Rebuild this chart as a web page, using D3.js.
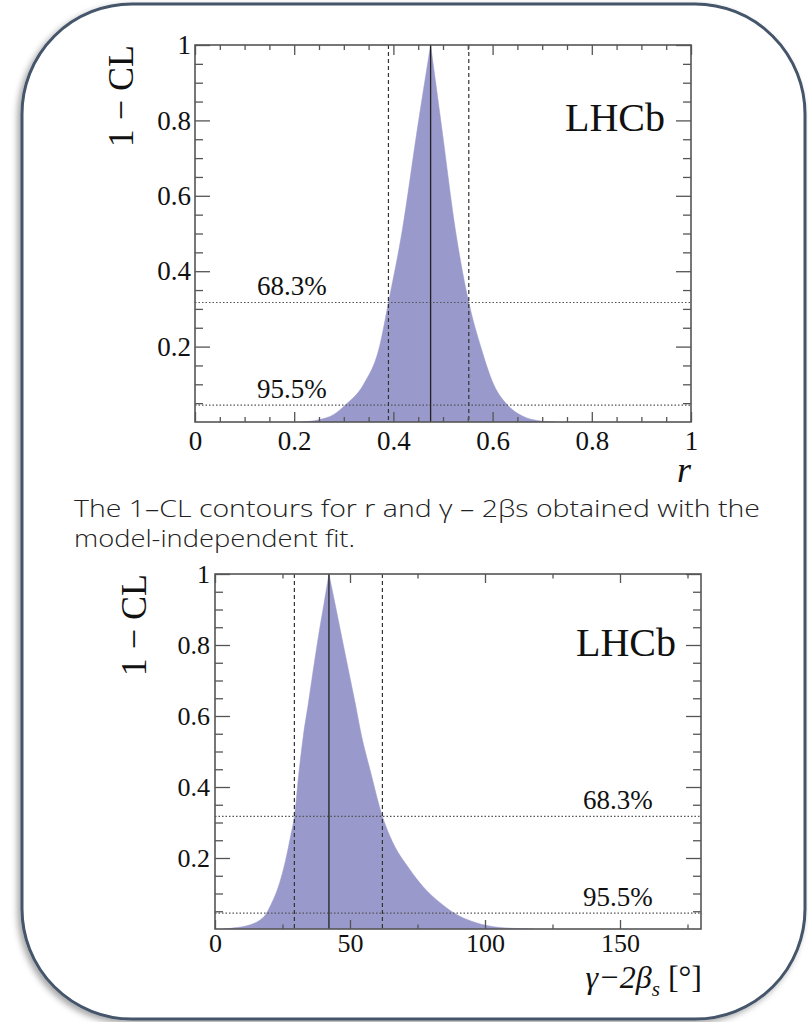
<!DOCTYPE html>
<html>
<head>
<meta charset="utf-8">
<script src="https://cdnjs.cloudflare.com/ajax/libs/d3/7.8.5/d3.min.js"></script>
<style>
    body { margin: 0; background: #fff; }
    svg { display: block; }
</style>
</head>
<body>
<div id="chart"></div>
<script>
// 1-CL scan for r (top panel), split at the best fit so the cusp stays sharp
const rLeft = [0.215, 0.25, 0.28, 0.303, 0.34, 0.372, 0.39, 0.418, 0.448, 0.475];
const rLeftCL = [0, 0.006, 0.02, 0.045, 0.1, 0.2, 0.317, 0.509, 0.775, 1];
const rRight = [0.475, 0.498, 0.525, 0.552, 0.576, 0.602, 0.63, 0.66, 0.69, 0.725];
const rRightCL = [1, 0.775, 0.509, 0.317, 0.2, 0.1, 0.045, 0.016, 0.004, 0];
const rBest = 0.475;
const rInterval = [0.39, 0.552];

// 1-CL scan for gamma - 2beta_s in degrees (bottom panel)
const gLeft = [3, 8, 14.8, 19.1, 21.0, 23.5, 25.3, 28.0, 29.4, 31.2, 32.7, 34.6, 36.4, 38.3, 40.4, 42.2];
const gLeftCL = [0, 0.004, 0.017, 0.045, 0.073, 0.12, 0.167, 0.261, 0.317, 0.449, 0.543, 0.637, 0.73, 0.824, 0.918, 1];
const gRight = [42.2, 44.4, 46.9, 49.4, 51.9, 54.3, 57.4, 62, 64.8, 72.2, 77, 83.5, 88.5, 95, 102, 110, 118];
const gRightCL = [1, 0.918, 0.824, 0.73, 0.637, 0.543, 0.449, 0.317, 0.261, 0.167, 0.12, 0.073, 0.045, 0.022, 0.008, 0.002, 0];
const gBest = 42.2;
const gInterval = [29.4, 62];

// confidence levels
const clLevels = [0.317, 0.045];
const clLabels = ['68.3%', '95.5%'];

// ticks
const rMajorTicks = [0, 0.2, 0.4, 0.6, 0.8, 1];
const rMinorTicks = [0.05, 0.1, 0.15, 0.25, 0.3, 0.35, 0.45, 0.5, 0.55, 0.65, 0.7, 0.75, 0.85, 0.9, 0.95];
const gMajorTicks = [0, 50, 100, 150];
const gMinorTicks = [25, 75, 125, 175];
const clMajorTicks = [0.2, 0.4, 0.6, 0.8, 1];
const clMinorTicks = [0.05, 0.1, 0.15, 0.25, 0.3, 0.35, 0.45, 0.5, 0.55, 0.65, 0.7, 0.75, 0.85, 0.9, 0.95];

const captionLines = [
    'The 1\u2013CL contours for r and \u03b3 \u2013 2\u03b2s obtained with the',
    'model-independent fit.'
];

const W = 808, H = 1022;
const serif = '"Liberation Serif", "Times New Roman", serif';
const fillColor = '#9999cc';

const svg = d3.select('#chart').append('svg')
    .attr('width', W)
    .attr('height', H);

const defs = svg.append('defs');
const shadow = defs.append('filter')
    .attr('id', 'shadow')
    .attr('x', '-10%').attr('y', '-10%')
    .attr('width', '120%').attr('height', '120%');
shadow.append('feDropShadow')
    .attr('dx', -3).attr('dy', 3)
    .attr('stdDeviation', 3)
    .attr('flood-color', '#000')
    .attr('flood-opacity', 0.35);

// Rounded frame
svg.append('rect')
    .attr('x', 22).attr('y', 4)
    .attr('width', 783).attr('height', 1015)
    .attr('rx', 110).attr('ry', 110)
    .attr('fill', '#fff')
    .attr('stroke', '#44546a')
    .attr('stroke-width', 3)
    .attr('filter', 'url(#shadow)');

function drawPanel(p) {
    const x = d3.scaleLinear().domain(p.xDomain).range([p.left, p.right]);
    const y = d3.scaleLinear().domain([0, 1]).range([p.bottom, p.top]);
    const g = svg.append('g');

    const clipId = 'clip-' + p.id;
    defs.append('clipPath').attr('id', clipId)
        .append('rect')
        .attr('x', p.left).attr('y', p.top)
        .attr('width', p.right - p.left).attr('height', p.bottom - p.top);

    const area = d3.area()
        .x(d => x(d[0]))
        .y0(y(0))
        .y1(d => y(d[1]))
        .curve(d3.curveMonotoneX);

    const plot = g.append('g').attr('clip-path', `url(#${clipId})`);

    // Filled scan, both halves
    [d3.zip(p.xl, p.yl), d3.zip(p.xr, p.yr)].forEach(pts => {
        plot.append('path')
            .datum(pts)
            .attr('d', area)
            .attr('fill', fillColor)
            .attr('stroke', fillColor)
            .attr('stroke-width', 0.5);
    });

    // CL lines
    plot.selectAll('.cl')
        .data(clLevels)
        .enter()
        .append('line')
        .attr('x1', p.left).attr('x2', p.right)
        .attr('y1', d => y(d)).attr('y2', d => y(d))
        .attr('stroke', '#555')
        .attr('stroke-width', 1.2)
        .attr('stroke-dasharray', '1.5,2');

    // interval edges
    plot.selectAll('.edge')
        .data(p.interval)
        .enter()
        .append('line')
        .attr('x1', d => x(d)).attr('x2', d => x(d))
        .attr('y1', p.top).attr('y2', p.bottom)
        .attr('stroke', '#333')
        .attr('stroke-width', 1.2)
        .attr('stroke-dasharray', '4,3');

    // best fit
    plot.append('line')
        .attr('x1', x(p.best)).attr('x2', x(p.best))
        .attr('y1', y(0)).attr('y2', y(1))
        .attr('stroke', '#222')
        .attr('stroke-width', 1.3);

    // Axes, ticks pointing inward on all four sides
    const styleAxis = sel => {
        sel.select('.domain').remove();
        sel.selectAll('line').attr('stroke', '#555').attr('stroke-width', 1.3);
        sel.selectAll('text')
            .attr('font-family', serif)
            .attr('font-size', p.tickFont + 'px')
            .attr('fill', '#111');
    };

    g.append('g')
        .attr('transform', `translate(0,${p.bottom})`)
        .call(d3.axisBottom(x).tickValues(p.xMinor).tickSize(-p.xTick / 2).tickFormat(''))
        .call(styleAxis);
    g.append('g')
        .attr('transform', `translate(0,${p.bottom})`)
        .call(d3.axisBottom(x).tickValues(p.xMajor).tickSize(-p.xTick)
            .tickPadding(p.xPad).tickFormat(p.xFormat))
        .call(styleAxis);
    g.append('g')
        .attr('transform', `translate(0,${p.top})`)
        .call(d3.axisTop(x).tickValues(p.xMinor).tickSize(-p.xTick / 2).tickFormat(''))
        .call(styleAxis);
    g.append('g')
        .attr('transform', `translate(0,${p.top})`)
        .call(d3.axisTop(x).tickValues(p.xMajor).tickSize(-p.xTick).tickFormat(''))
        .call(styleAxis);

    const yFormat = d => d === 1 ? '1' : d3.format('.1f')(d);
    g.append('g')
        .attr('transform', `translate(${p.left},0)`)
        .call(d3.axisLeft(y).tickValues(clMinorTicks).tickSize(-8).tickFormat(''))
        .call(styleAxis);
    g.append('g')
        .attr('transform', `translate(${p.left},0)`)
        .call(d3.axisLeft(y).tickValues(clMajorTicks).tickSize(-15)
            .tickPadding(p.yPad).tickFormat(yFormat))
        .call(styleAxis);
    g.append('g')
        .attr('transform', `translate(${p.right},0)`)
        .call(d3.axisRight(y).tickValues(clMinorTicks).tickSize(-8).tickFormat(''))
        .call(styleAxis);
    g.append('g')
        .attr('transform', `translate(${p.right},0)`)
        .call(d3.axisRight(y).tickValues(clMajorTicks).tickSize(-15).tickFormat(''))
        .call(styleAxis);

    // Frame
    g.append('rect')
        .attr('x', p.left).attr('y', p.top)
        .attr('width', p.right - p.left).attr('height', p.bottom - p.top)
        .attr('fill', 'none')
        .attr('stroke', '#555')
        .attr('stroke-width', 1.6);

    // CL labels
    g.selectAll('.cllabel')
        .data(clLevels)
        .enter()
        .append('text')
        .attr('x', x(p.labelAt))
        .attr('y', d => y(d) - 7)
        .attr('font-family', serif)
        .attr('font-size', '27px')
        .attr('fill', '#111')
        .text((d, i) => clLabels[i]);

    // LHCb
    g.append('text')
        .attr('x', p.lhcb[0]).attr('y', p.lhcb[1])
        .attr('text-anchor', 'end')
        .attr('font-family', serif)
        .attr('font-size', '40px')
        .attr('fill', '#111')
        .text('LHCb');

    // y title
    g.append('text')
        .attr('transform', `translate(${p.yTitleX},${p.top}) rotate(-90)`)
        .attr('text-anchor', 'end')
        .attr('font-family', serif)
        .attr('font-size', '36px')
        .attr('fill', '#111')
        .text('1 \u2212 CL');

    return g;
}

const rPanel = drawPanel({
    id: 'r', left: 195, right: 691, top: 45, bottom: 422,
    xDomain: [0, 1], xl: rLeft, yl: rLeftCL, xr: rRight, yr: rRightCL,
    best: rBest, interval: rInterval,
    xMajor: rMajorTicks, xMinor: rMinorTicks,
    xFormat: d => (d === 0 || d === 1) ? String(d) : d3.format('.1f')(d),
    xTick: 10, xPad: 9, yPad: 4, tickFont: 27,
    labelAt: 0.125, lhcb: [665, 131], yTitleX: 133
});
rPanel.append('text')
    .attr('x', 691).attr('y', 482)
    .attr('text-anchor', 'end')
    .attr('font-family', serif)
    .attr('font-style', 'italic')
    .attr('font-size', '36px')
    .attr('fill', '#111')
    .text('r');

const gPanel = drawPanel({
    id: 'g', left: 215, right: 701, top: 574, bottom: 929,
    xDomain: [0, 180], xl: gLeft, yl: gLeftCL, xr: gRight, yr: gRightCL,
    best: gBest, interval: gInterval,
    xMajor: gMajorTicks, xMinor: gMinorTicks,
    xFormat: d => String(d),
    xTick: 9, xPad: 5, yPad: 5, tickFont: 26,
    labelAt: 136.3, lhcb: [676, 656], yTitleX: 146
});
const xTitle = gPanel.append('text')
    .attr('x', 702).attr('y', 988)
    .attr('text-anchor', 'end')
    .attr('font-family', serif)
    .attr('font-size', '32px')
    .attr('fill', '#111');
xTitle.append('tspan').attr('font-style', 'italic').text('\u03b3\u22122\u03b2');
xTitle.append('tspan').attr('font-style', 'italic').attr('font-size', '21px').attr('dy', 8).text('s');
xTitle.append('tspan').attr('dy', -8).text(' [\u00b0]');

// Caption
svg.selectAll('.caption')
    .data(captionLines)
    .enter()
    .append('text')
    .attr('x', 74)
    .attr('y', (d, i) => 517 + i * 30)
    .attr('font-family', '"Open Sans", "Noto Sans", sans-serif')
    .attr('font-weight', 300)
    .attr('font-size', '24px')
    .attr('fill', '#222')
    .attr('textLength', (d, i) => i === 0 ? 686 : 281)
    .attr('lengthAdjust', 'spacingAndGlyphs')
    .text(d => d);
</script>
</body>
</html>
